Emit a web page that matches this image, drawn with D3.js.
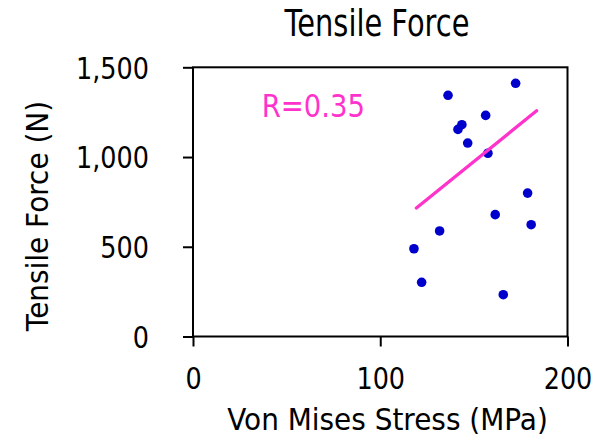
<!DOCTYPE html>
<html>
<head>
<meta charset="utf-8">
<script src="https://cdn.jsdelivr.net/npm/d3@7"></script>
<style>
  html, body { margin: 0; padding: 0; background: #fff; }
  svg { display: block; font-family: "DejaVu Sans", Verdana, sans-serif; }
</style>
</head>
<body>
<svg id="chart" width="602" height="437"></svg>
<script>
// Measured samples: von Mises stress (MPa) vs tensile force (N)
const stress = [172.3, 136.2, 156.3, 143.6, 141.5, 146.7, 157.5, 178.7, 161.4, 180.6, 131.7, 118.0, 122.1, 165.7];
const force  = [1411, 1344, 1232, 1180, 1154, 1078, 1021, 799, 679, 623, 588, 489, 302, 233];

// Trend line end points (stress, force)
const trendStress = [119.3, 183.5];
const trendForce  = [716, 1258];
const rLabel = "R=0.35";

const xTicks = [0, 100, 200];
const yTicks = [0, 500, 1000, 1500];

const chartTitle = "Tensile Force";
const xTitle = "Von Mises Stress (MPa)";
const yTitle = "Tensile Force (N)";

const svg = d3.select("#chart");
const plot = { left: 193, right: 567.5, top: 67.3, bottom: 336.5 };

const x = d3.scaleLinear().domain([0, 200]).range([plot.left, plot.right]);
const y = d3.scaleLinear().domain([0, 1500]).range([plot.bottom, plot.top]);

const blue = "#0000CC";
const pink = "#FF33CC";
const fmt = d3.format(",");

// Horizontally condensed text helper
function label(g, txt, px, py, size, sx, anchor, fill) {
  return g.append("text")
    .attr("transform", `translate(${px},${py}) scale(${sx},1)`)
    .attr("text-anchor", anchor)
    .attr("font-size", size)
    .attr("fill", fill || "#000")
    .text(txt);
}

// Plot frame
svg.append("rect")
  .attr("x", plot.left).attr("y", plot.top)
  .attr("width", plot.right - plot.left).attr("height", plot.bottom - plot.top)
  .attr("fill", "none").attr("stroke", "#000").attr("stroke-width", 2);

// Y axis
const yAxis = svg.append("g")
  .attr("transform", `translate(${plot.left},0)`)
  .call(d3.axisLeft(y).tickValues(yTicks).tickSize(10).tickSizeOuter(0).tickFormat(fmt));
yAxis.select(".domain").remove();
yAxis.selectAll(".tick line").attr("stroke", "#000").attr("stroke-width", 2);
yAxis.selectAll(".tick text")
  .attr("x", 0).attr("dy", "0.36em")
  .attr("transform", "translate(-44,0) scale(0.85,1)")
  .attr("font-size", 30).attr("font-family", "DejaVu Sans").attr("fill", "#000");

// X axis
const xAxis = svg.append("g")
  .attr("transform", `translate(0,${plot.bottom})`)
  .call(d3.axisBottom(x).tickValues(xTicks).tickSize(10).tickSizeOuter(0).tickFormat(fmt));
xAxis.select(".domain").remove();
xAxis.selectAll(".tick line").attr("stroke", "#000").attr("stroke-width", 2);
xAxis.selectAll(".tick text")
  .attr("y", 0).attr("dy", 0)
  .attr("transform", "translate(0,52.5) scale(0.85,1)")
  .attr("font-size", 30).attr("font-family", "DejaVu Sans").attr("fill", "#000");

// Points
const pts = stress.map((s, i) => ({ s, f: force[i] }));
svg.append("g").selectAll("circle").data(pts).join("circle")
  .attr("cx", d => x(d.s)).attr("cy", d => y(d.f))
  .attr("r", 4.8).attr("fill", blue);

// Trend line
const trend = trendStress.map((s, i) => [s, trendForce[i]]);
svg.append("path")
  .attr("d", d3.line().x(d => x(d[0])).y(d => y(d[1]))(trend))
  .attr("fill", "none").attr("stroke", pink).attr("stroke-width", 3.3)
  .attr("stroke-linecap", "round");

// Correlation label
label(svg, rLabel, 261.7, 116.7, 32, 0.86, "start", pink);

// Titles
label(svg, chartTitle, 377, 36, 38, 0.76, "middle");
label(svg, xTitle, 387.5, 430, 29.7, 0.94, "middle");
svg.append("text")
  .attr("transform", "translate(48.3,216) rotate(-90) scale(0.94,1)")
  .attr("text-anchor", "middle")
  .attr("font-size", 29.7)
  .text(yTitle);
</script>
</body>
</html>
